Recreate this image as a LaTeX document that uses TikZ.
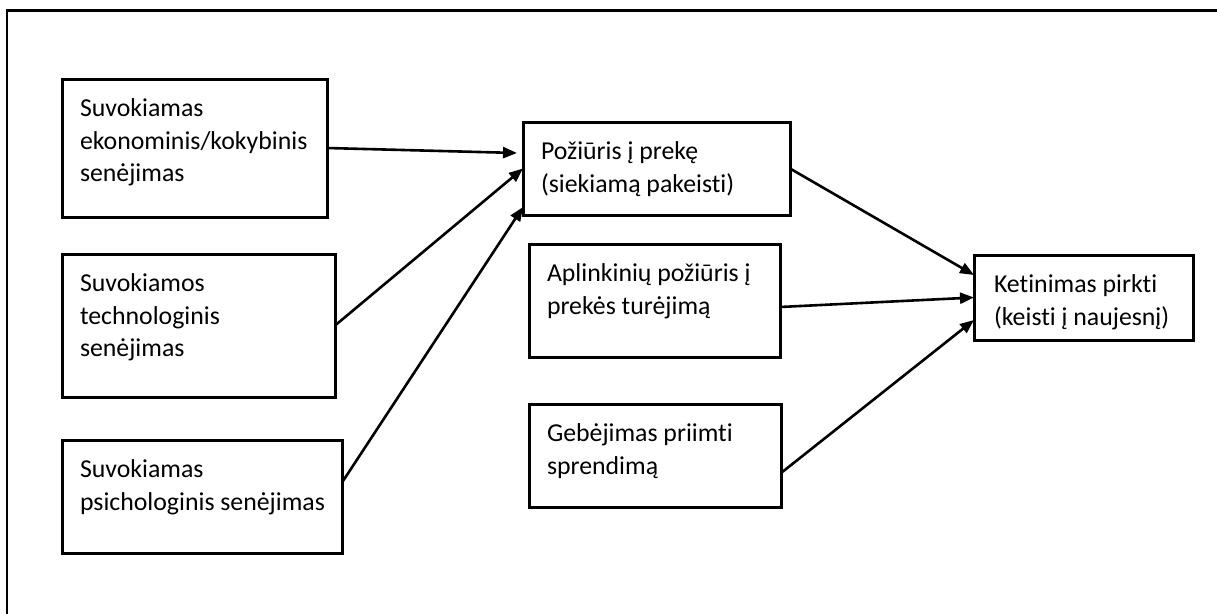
\documentclass[tikz,border=0pt]{standalone}
\usepackage{fontspec}
\setmainfont{Carlito}[Ligatures=NoCommon]
\usetikzlibrary{arrows.meta,calc}

% text of a box: top-aligned paragraph filling the inner area (w, h in pt)
\newcommand{\cellbody}[3]{\parbox[c][\dimexpr#2pt-30pt\relax][t]{\dimexpr#1pt-36pt\relax}{\raggedright\strut #3}}

\tikzset{
  box/.style={draw, line width=3pt, outer sep=0pt, anchor=north west, inner xsep=18pt, inner ysep=15pt,
              font=\fontsize{25.8}{32.5}\selectfont},
  link/.style={line width=2.6pt, -{Triangle[length=14pt,width=11pt]}},
  frame/.style={line width=2.6pt}
}

\begin{document}
\begin{tikzpicture}[x=1pt,y=-1pt]
\useasboundingbox (0,0) rectangle (1217,613);
\clip (0,0) rectangle (1217,613);

% outer frame (runs past the page on the right and bottom)
\draw[frame] (7,10.5) rectangle (1240,640);

% left column: perceived obsolescence
\node[box] (b1) at (62,79)  {\cellbody{265}{138}{Suvokiamas\\ekonominis/kokybinis\\senėjimas}};
\node[box] (b2) at (62,254) {\cellbody{273}{143}{Suvokiamos\\technologinis\\senėjimas}};
\node[box] (b3) at (62,440) {\cellbody{280}{113}{Suvokiamas\\\mbox{psichologinis senėjimas}}};

% middle column
\node[box] (b4) at (523,122) {\cellbody{267}{93}{Požiūris į prekę\\(siekiamą pakeisti)}};
\node[box] (b5) at (529,244) {\cellbody{251}{113}{Aplinkinių požiūris į\\prekės turėjimą}};
\node[box] (b6) at (529,404) {\cellbody{252}{103}{Gebėjimas priimti\\sprendimą}};

% outcome
\node[box, inner xsep=20pt] (b7) at (974,255) {\cellbody{215}{85}{Ketinimas pirkti\\(keisti į naujesnį)}};

% connectors into the attitude box
\draw[link] (b1.east) -- ($(b4.west)+(-6,-15.5)$);
\draw[link] (b2.east) -- (b4.west);
\draw[link] ($(b3.east)+(0,-14)$) -- ($(b4.south west)+(0,-8)$);

% connectors into the intention box
\draw[link] (b4.east) -- ($(b7.west)+(0,-22.5)$);
\draw[link] ($(b5.east)+(0,6.5)$) -- (b7.west);
\draw[link] ($(b6.east)+(0,17.5)$) -- ($(b7.west)+(0,22.5)$);
\end{tikzpicture}
\end{document}
